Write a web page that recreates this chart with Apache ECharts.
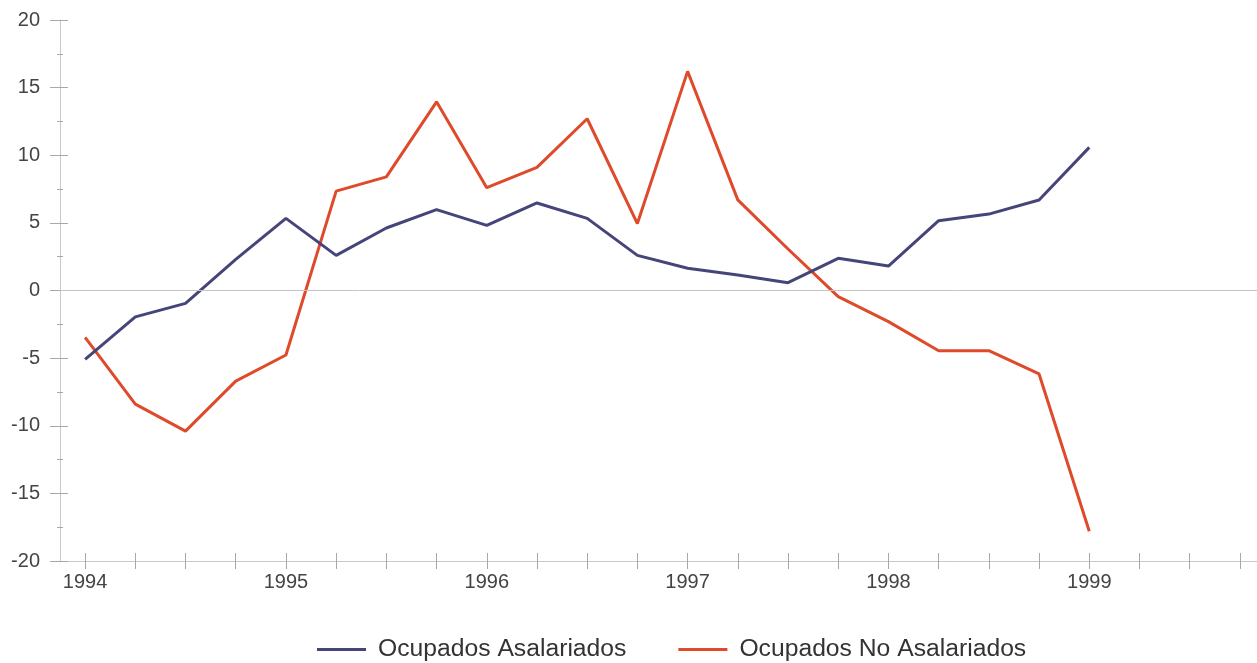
<!DOCTYPE html>
<html>
<head>
<meta charset="utf-8">
<script src="https://cdn.jsdelivr.net/npm/echarts@6/dist/echarts.min.js"></script>
<style>html,body{margin:0;padding:0;background:#fff}#c{width:1257px;height:663px}</style>
</head>
<body>
<div id="c"></div>
<script>
// Quarterly categories 1994 Q1 .. 1999 Q4; only first quarter labelled
var categories = ['1994','','','','1995','','','','1996','','','','1997','','','','1998','','','','1999','','',''];
var asalariados = [-5.1, -1.95, -0.95, 2.3, 5.33, 2.6, 4.62, 5.98, 4.82, 6.47, 5.33, 2.6, 1.64, 1.15, 0.58, 2.38, 1.81, 5.16, 5.65, 6.69, 10.58];
var noAsalariados = [-3.46, -8.4, -10.4, -6.7, -4.77, 7.35, 8.4, 13.95, 7.6, 9.1, 12.7, 4.95, 16.2, 6.7, 3.07, -0.45, -2.3, -4.45, -4.45, -6.17, -17.8];
var seriesNames = ['Ocupados Asalariados', 'Ocupados No Asalariados'];
var yTicks = {min: -20, max: 20, interval: 5};

var font = 'Liberation Sans, Arial, sans-serif';
var axisGray = '#c8c8c8';
var tickGray = '#a8a8a8';
var chart = echarts.init(document.getElementById('c'), null, {renderer: 'canvas'});
chart.setOption({
  animation: false,
  backgroundColor: '#ffffff',
  grid: {left: 60, top: 20, width: 1205, height: 541, containLabel: false, outerBoundsMode: 'none'},
  legend: {
    left: 312, top: 632,
    itemWidth: 49, itemHeight: 3, itemGap: 52, icon: 'rect',
    textStyle: {fontFamily: font, fontSize: 24.7, color: '#333', padding: [0, 0, 0, 7]},
    data: seriesNames
  },
  xAxis: [{
    type: 'category', data: categories, boundaryGap: true, position: 'bottom',
    axisLine: {show: true, onZero: false, lineStyle: {color: axisGray, width: 1}},
    axisTick: {show: true, alignWithLabel: true, interval: 0, length: 8, lineStyle: {color: tickGray, width: 1}},
    axisLabel: {show: true, interval: 0, margin: 11, fontFamily: font, fontSize: 20, color: '#444'},
    splitLine: {show: false}
  }, {
    type: 'category', data: categories, boundaryGap: true, position: 'bottom', offset: 0,
    axisLine: {show: false, onZero: false},
    axisTick: {show: true, alignWithLabel: true, interval: 0, inside: true, length: 8, lineStyle: {color: tickGray, width: 1}},
    axisLabel: {show: false}, splitLine: {show: false}
  }],
  yAxis: [{
    type: 'value', min: yTicks.min, max: yTicks.max, interval: yTicks.interval, position: 'left',
    axisLine: {show: true, onZero: false, lineStyle: {color: axisGray, width: 1}},
    axisTick: {show: true, length: 10, lineStyle: {color: tickGray}},
    minorTick: {show: true, splitNumber: 2, length: 3, lineStyle: {color: tickGray}},
    axisLabel: {margin: 20, fontFamily: font, fontSize: 20, color: '#444'},
    splitLine: {show: false}
  }, {
    type: 'value', min: yTicks.min, max: yTicks.max, interval: yTicks.interval, position: 'left', offset: 0,
    axisLine: {show: false, onZero: false},
    axisTick: {show: true, inside: true, length: 8, lineStyle: {color: tickGray}},
    minorTick: {show: true, splitNumber: 2, length: 3, lineStyle: {color: tickGray}},
    axisLabel: {show: false}, splitLine: {show: false}
  }],
  series: [{
    name: seriesNames[0], type: 'line', data: asalariados, symbol: 'none',
    lineStyle: {color: '#45457a', width: 3}, itemStyle: {color: '#45457a'},
    markLine: {
      silent: true, symbol: 'none', label: {show: false},
      lineStyle: {color: '#c4c4c4', width: 1, type: 'solid'},
      data: [{yAxis: 0}]
    },
    z: 3
  }, {
    name: seriesNames[1], type: 'line', data: noAsalariados, symbol: 'none',
    lineStyle: {color: '#de4a2a', width: 3}, itemStyle: {color: '#de4a2a'},
    z: 2
  }]
});
</script>
</body>
</html>
